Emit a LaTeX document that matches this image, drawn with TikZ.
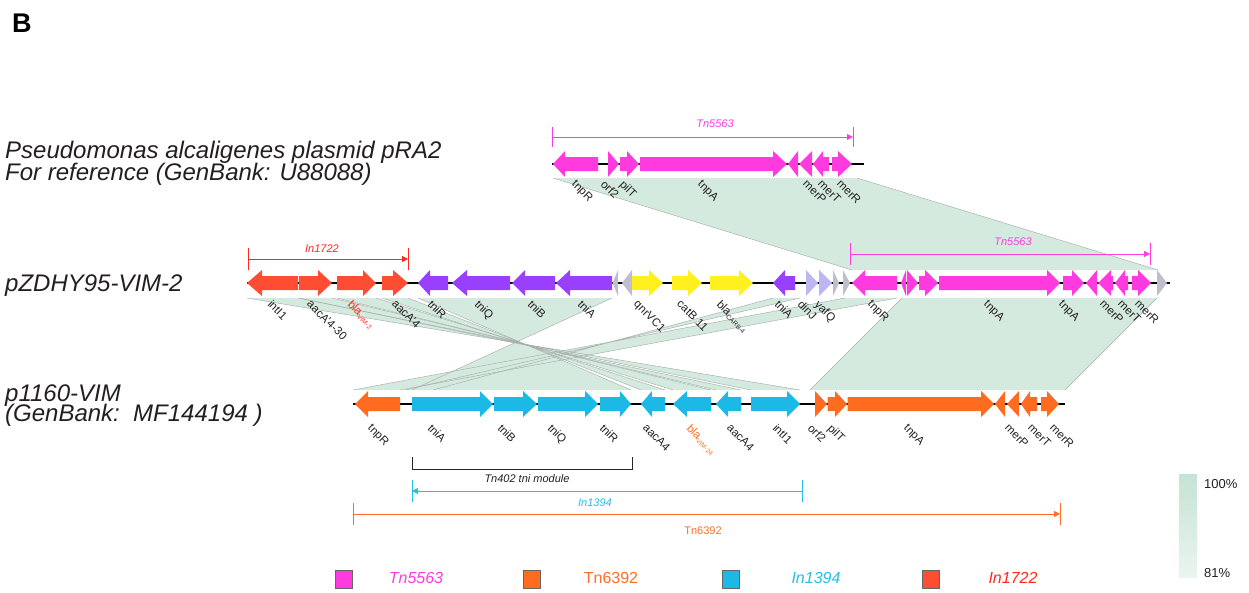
\documentclass[tikz,border=0pt]{standalone}
\usepackage{fontspec}
\setmainfont{Liberation Sans}
\usetikzlibrary{arrows.meta}
\definecolor{cMag}{RGB}{255,58,222}
\definecolor{cRed}{RGB}{255,77,51}
\definecolor{cPur}{RGB}{153,64,255}
\definecolor{cYel}{RGB}{255,240,30}
\definecolor{cGry}{RGB}{190,190,204}
\definecolor{cLav}{RGB}{188,182,242}
\definecolor{cOra}{RGB}{255,108,32}
\definecolor{cBlu}{RGB}{28,184,230}
\definecolor{cLink}{RGB}{212,234,223}
\definecolor{cEdge}{RGB}{165,175,170}
\definecolor{cTxt}{RGB}{35,31,32}
\definecolor{tMag}{RGB}{255,60,220}
\definecolor{tRed}{RGB}{255,40,30}
\definecolor{tBlu}{RGB}{40,190,230}
\definecolor{tOra}{RGB}{255,110,40}
\definecolor{sTop}{RGB}{196,227,212}
\definecolor{sBot}{RGB}{234,245,239}
\newcommand{\geneR}[5]{\fill[#5] (#1,#4-7) -- (#2,#4-7) -- (#2,#4-13) -- (#3,#4) -- (#2,#4+13) -- (#2,#4+7) -- (#1,#4+7) -- cycle;}
\newcommand{\geneL}[5]{\fill[#5] (#3,#4-7) -- (#2,#4-7) -- (#2,#4-13) -- (#1,#4) -- (#2,#4+13) -- (#2,#4+7) -- (#3,#4+7) -- cycle;}
\newcommand{\sbs}[1]{\raisebox{-0.3ex}{\fontsize{6.5}{7}\selectfont #1}}
\begin{document}
\begin{tikzpicture}[x=1pt,y=-1pt,
  glab/.style={font=\fontsize{11.5}{13}\selectfont, rotate=-45, anchor=north west, inner sep=0pt, text=cTxt},
  title/.style={font=\fontsize{24}{27}\selectfont\itshape, anchor=base west, inner sep=0pt, text=cTxt},
  brk/.style={line width=0.8pt},
  brklab/.style={font=\fontsize{11}{13}\selectfont\itshape, inner sep=0pt},
  backbone/.style={line width=2.6pt, black},
  legsq/.style={draw=black!60, line width=0.6pt, minimum width=17pt, minimum height=18pt, inner sep=0pt},
  legtxt/.style={font=\fontsize{16}{18}\selectfont, inner sep=0pt},
  tip/.style={-{Triangle[length=6pt,width=6pt]}},
  tipl/.style={{Triangle[length=6pt,width=6pt]}-}]
\useasboundingbox (0,0) rectangle (1249,592);
% links: fills
\foreach \a/\b/\c/\d/\yt/\yb in {553/857/852/1158/178/270, 902/1157/810/1065/298/390, 845/897/353/400/298/390, 773/800/433/405/298/390, 418/612/631/412/298/390, 247/298/800/751/298/390, 299/332/741/716/298/390, 337/376/711/673/298/390, 382/408/665/641/298/390}
  {\fill[cLink] (\a,\yt) -- (\b,\yt) -- (\d,\yb) -- (\c,\yb) -- cycle;}
\foreach \a/\b/\c/\d/\yt/\yb in {553/857/852/1158/178/270, 902/1157/810/1065/298/390, 845/897/353/400/298/390, 773/800/433/405/298/390, 418/612/631/412/298/390, 247/298/800/751/298/390, 299/332/741/716/298/390, 337/376/711/673/298/390, 382/408/665/641/298/390}
  {\draw[cEdge, line width=0.45pt] (\a,\yt) -- (\c,\yb) (\b,\yt) -- (\d,\yb);}
% backbones
\draw[backbone] (552,164) -- (864,164);
\draw[backbone] (247,283) -- (1170,283);
\draw[backbone] (353,404) -- (1065,404);
% track 1
\geneL{553}{565}{598}{164}{cMag}
\geneR{608}{608}{619}{164}{cMag}
\geneR{620}{627}{639}{164}{cMag}
\geneR{640}{773}{787}{164}{cMag}
\geneL{788}{798}{798}{164}{cMag}
\geneL{799}{812}{812}{164}{cMag}
\geneL{813}{823}{829}{164}{cMag}
\geneR{832}{838}{852}{164}{cMag}
% track 2
\geneL{247}{262}{298}{283}{cRed}
\geneR{299}{318}{332}{283}{cRed}
\geneR{337}{363}{376}{283}{cRed}
\geneR{382}{393}{408}{283}{cRed}
\geneL{418}{430}{448}{283}{cPur}
\geneL{452}{467}{510}{283}{cPur}
\geneL{512}{525}{555}{283}{cPur}
\geneL{556}{570}{612}{283}{cPur}
\geneL{612.5}{618}{618}{283}{cGry}
\geneL{622}{632}{632}{283}{cGry}
\geneR{632}{649}{663}{283}{cYel}
\geneR{672}{688}{702}{283}{cYel}
\geneR{710}{739}{753}{283}{cYel}
\geneL{773}{785}{795}{283}{cPur}
\geneR{806}{806}{818}{283}{cLav}
\geneR{819}{819}{832}{283}{cLav}
\geneR{833}{833}{839}{283}{cGry}
\geneR{843}{843}{850}{283}{cGry}
\geneL{852}{865}{897}{283}{cMag}
\geneL{901}{906}{906}{283}{cMag}
\geneR{907}{907}{918}{283}{cMag}
\geneR{919}{925}{938}{283}{cMag}
\geneR{939}{1047}{1060}{283}{cMag}
\geneR{1063}{1072}{1084}{283}{cMag}
\geneL{1086}{1097}{1097}{283}{cMag}
\geneL{1098}{1111}{1113}{283}{cMag}
\geneL{1115}{1125}{1128}{283}{cMag}
\geneR{1132}{1138}{1151}{283}{cMag}
\geneR{1157}{1157}{1167}{283}{cGry}
% track 3
\geneL{355}{368}{400}{404}{cOra}
\geneR{412}{480}{493}{404}{cBlu}
\geneR{494}{523}{537}{404}{cBlu}
\geneR{538}{585}{598}{404}{cBlu}
\geneR{600}{620}{631}{404}{cBlu}
\geneL{641}{652}{665}{404}{cBlu}
\geneL{673}{687}{711}{404}{cBlu}
\geneL{716}{728}{741}{404}{cBlu}
\geneR{751}{787}{800}{404}{cBlu}
\geneR{815}{815}{827}{404}{cOra}
\geneR{827.5}{835}{847}{404}{cOra}
\geneR{847.5}{981}{994}{404}{cOra}
\geneL{995}{1005}{1005}{404}{cOra}
\geneL{1007}{1019}{1019}{404}{cOra}
\geneL{1021}{1030}{1037}{404}{cOra}
\geneR{1041}{1047}{1059}{404}{cOra}
% labels track 1
\node[glab] (a1) at (577,179) {tnpR};
\node[glab] (a2) at (606,179) {orf2};
\node[glab] (a3) at (625,179) {pilT};
\node[glab] (a4) at (703,179) {tnpA};
\node[glab] (a5) at (808,179) {merP};
\node[glab] (a6) at (823,179) {merT};
\node[glab] (a7) at (842,179) {merR};
% labels track 2
\node[glab] (b1) at (273,299) {intI1};
\node[glab] (b2) at (312,299) {aacA'4-30};
\node[glab, text=tRed] (b3) at (353,299) {bla\sbs{VIM-2}};
\node[glab] (b4) at (397,299) {aacA'4};
\node[glab] (b5) at (433,299) {tniR};
\node[glab] (b6) at (480,299) {tniQ};
\node[glab] (b7) at (533,299) {tniB};
\node[glab] (b8) at (583,299) {tniA};
\node[glab] (b9) at (639,299) {qnrVC1};
\node[glab] (b10) at (682,299) {catB 11};
\node[glab] (b11) at (722,299) {bla\sbs{CARB-4}};
\node[glab] (b12) at (780,299) {tniA};
\node[glab] (b13) at (803,299) {dinJ};
\node[glab] (b14) at (820,299) {yafQ};
\node[glab] (b15) at (873,299) {tnpR};
\node[glab] (b16) at (989,299) {tnpA};
\node[glab] (b17) at (1064,299) {tnpA};
\node[glab] (b18) at (1105,299) {merP};
\node[glab] (b19) at (1123,299) {merT};
\node[glab] (b20) at (1140,299) {merR};
% labels track 3
\node[glab] (c1) at (373,423) {tnpR};
\node[glab] (c2) at (433,423) {tniA};
\node[glab] (c3) at (503,423) {tniB};
\node[glab] (c4) at (553,423) {tniQ};
\node[glab] (c5) at (605,423) {tniR};
\node[glab] (c6) at (648,423) {aacA4};
\node[glab, text=tOra] (c7) at (692,423) {bla\sbs{VIM-24}};
\node[glab] (c8) at (732,423) {aacA4};
\node[glab] (c9) at (778,423) {intI1};
\node[glab] (c10) at (813,423) {orf2};
\node[glab] (c11) at (833,423) {pilT};
\node[glab] (c12) at (909,423) {tnpA};
\node[glab] (c13) at (1010,423) {merP};
\node[glab] (c14) at (1033,423) {merT};
\node[glab] (c15) at (1055,423) {merR};
% brackets
\coordinate (p1a) at (552,137); \coordinate (p1b) at (853,137);
\draw[brk, tMag, tip] (p1a) -- (p1b);
\draw[brk, tMag] (552,127) -- (552,147) (853,127) -- (853,147);
\node[brklab, text=tMag] (L1) at (715,124) {Tn5563};
\coordinate (p2a) at (248,259); \coordinate (p2b) at (408,259);
\draw[brk, tRed, tip] (p2a) -- (p2b);
\draw[brk, tRed] (248,248) -- (248,270) (408,248) -- (408,270);
\node[brklab, text=tRed] (L2) at (322,249) {In1722};
\coordinate (p3a) at (850,254); \coordinate (p3b) at (1150,254);
\draw[brk, tMag, tip] (p3a) -- (p3b);
\draw[brk, tMag] (850,243) -- (850,265) (1150,243) -- (1150,265);
\node[brklab, text=tMag] (L3) at (1013,242) {Tn5563};
\draw[line width=0.8pt, black!85] (412,457) -- (412,469) -- (632,469) -- (632,457);
\node[brklab, text=cTxt] (L4) at (527,479) {Tn402 tni module};
\coordinate (p4a) at (412,491); \coordinate (p4b) at (802,491);
\draw[brk, tBlu, tipl] (p4a) -- (p4b);
\draw[brk, tBlu] (412,480) -- (412,502) (802,480) -- (802,502);
\node[brklab, text=tBlu] (L5) at (595,503) {In1394};
\coordinate (p5a) at (353,514); \coordinate (p5b) at (1060,514);
\draw[brk, tOra, tip] (p5a) -- (p5b);
\draw[brk, tOra] (353,503) -- (353,525) (1060,503) -- (1060,525);
\node[brklab, font=\fontsize{11}{13}\selectfont, text=tOra] (L6) at (703,531) {Tn6392};
% titles
\node[font=\fontsize{27}{30}\selectfont\bfseries, anchor=base west, inner sep=0pt] (B) at (12,32) {B};
\node[title] (t1) at (5,158) {Pseudomonas alcaligenes plasmid pRA2};
\node[title] (t1b) at (5,180) {For reference (GenBank: U88088)};
\node[title] (t2) at (5,291) {pZDHY95-VIM-2};
\node[title] (t3) at (5,401) {p1160-VIM};
\node[title] (t3b) at (5,421) {(GenBank:\ \ MF144194 )};
% legend
\node[legsq, fill=cMag] (q1) at (343.5,579) {};
\node[legtxt, font=\fontsize{16}{18}\selectfont\itshape, text=tMag] (q1t) at (416,578) {Tn5563};
\node[legsq, fill=cOra] (q2) at (531.5,579) {};
\node[legtxt, text=tOra] (q2t) at (611,578) {Tn6392};
\node[legsq, fill=cBlu] (q3) at (731,579) {};
\node[legtxt, font=\fontsize{16}{18}\selectfont\itshape, text=tBlu] (q3t) at (816,578) {In1394};
\node[legsq, fill=cRed] (q4) at (931,579) {};
\node[legtxt, font=\fontsize{16}{18}\selectfont\itshape, text=tRed] (q4t) at (1013,578) {In1722};
% scale
\shade[top color=sTop, bottom color=sBot] (1179,474) rectangle (1197,577);
\node[font=\fontsize{13}{15}\selectfont, anchor=west, inner sep=0pt, text=cTxt] (s1) at (1204,484) {100\%};
\node[font=\fontsize{13}{15}\selectfont, anchor=west, inner sep=0pt, text=cTxt] (s2) at (1204,573) {81\%};
\end{tikzpicture}
\end{document}
